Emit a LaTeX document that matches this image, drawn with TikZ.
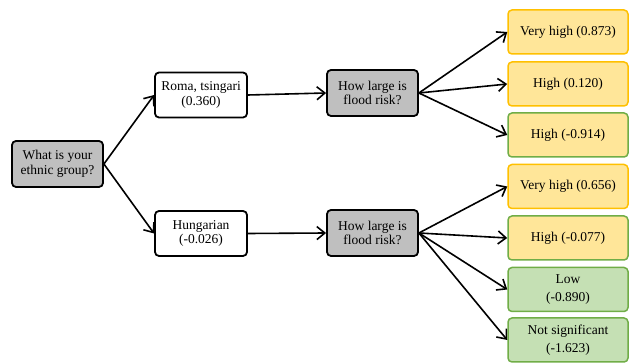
\documentclass[tikz,border=0pt]{standalone}
\usepackage{fontspec}
\setmainfont{Liberation Serif}
\usetikzlibrary{arrows.meta}
\definecolor{qgray}{HTML}{BFBFBF}
\definecolor{ofill}{HTML}{FFE699}
\definecolor{oline}{HTML}{FFC000}
\definecolor{gfill}{HTML}{C5E0B4}
\definecolor{gline}{HTML}{70AD47}
\tikzset{
  base/.style={rounded corners=4pt, line width=1.8pt, inner sep=0pt, align=center, font=\fontsize{13.5}{14.5}\selectfont},
  qbox/.style={base, draw=black, fill=qgray, minimum width=91pt, minimum height=46pt},
  abox/.style={base, draw=black, fill=white, minimum width=92pt, minimum height=45pt},
  rbox/.style={base, minimum width=120pt, minimum height=44pt, line width=1.5pt},
  ob/.style={rbox, draw=oline, fill=ofill},
  og/.style={rbox, draw=gline, fill=ofill},
  gg/.style={rbox, draw=gline, fill=gfill},
  arr/.style={line width=1.6pt, -{Straight Barb[length=8pt,width=13pt,line width=1.6pt]}}
}
\begin{document}
\begin{tikzpicture}[x=1pt,y=-1pt]
\useasboundingbox (0,0) rectangle (630,363);
\node[qbox] (root) at (57.5,164) {What is your\\ethnic group?};
\node[abox] (roma) at (201,95) {Roma, tsingari\\(0.360)};
\node[abox] (hun) at (201,233.5) {Hungarian\\(-0.026)};
\node[qbox] (f1) at (372.5,93) {How large is\\flood risk?};
\node[qbox] (f2) at (372.5,233) {How large is\\flood risk?};
\node[ob] (r1) at (568,32) {Very high (0.873)};
\node[ob] (r2) at (568,84) {High (0.120)};
\node[og] (r3) at (568,135) {High (-0.914)};
\node[ob] (r4) at (568,186.5) {Very high (0.656)};
\node[og] (r5) at (568,238) {High (-0.077)};
\node[gg] (r6) at (568,289.5) {Low\\[4pt](-0.890)};
\node[gg] (r7) at (568,340) {Not significant\\[4pt](-1.623)};
\draw[arr] (root.east) -- (roma.west);
\draw[arr] (root.east) -- (hun.west);
\draw[arr] (roma.east) -- (f1.west);
\draw[arr] (hun.east) -- (f2.west);
\foreach \t in {r1,r2,r3} \draw[arr] (f1.east) -- (\t.west);
\foreach \t in {r4,r5,r6,r7} \draw[arr] (f2.east) -- (\t.west);
\end{tikzpicture}
\end{document}
